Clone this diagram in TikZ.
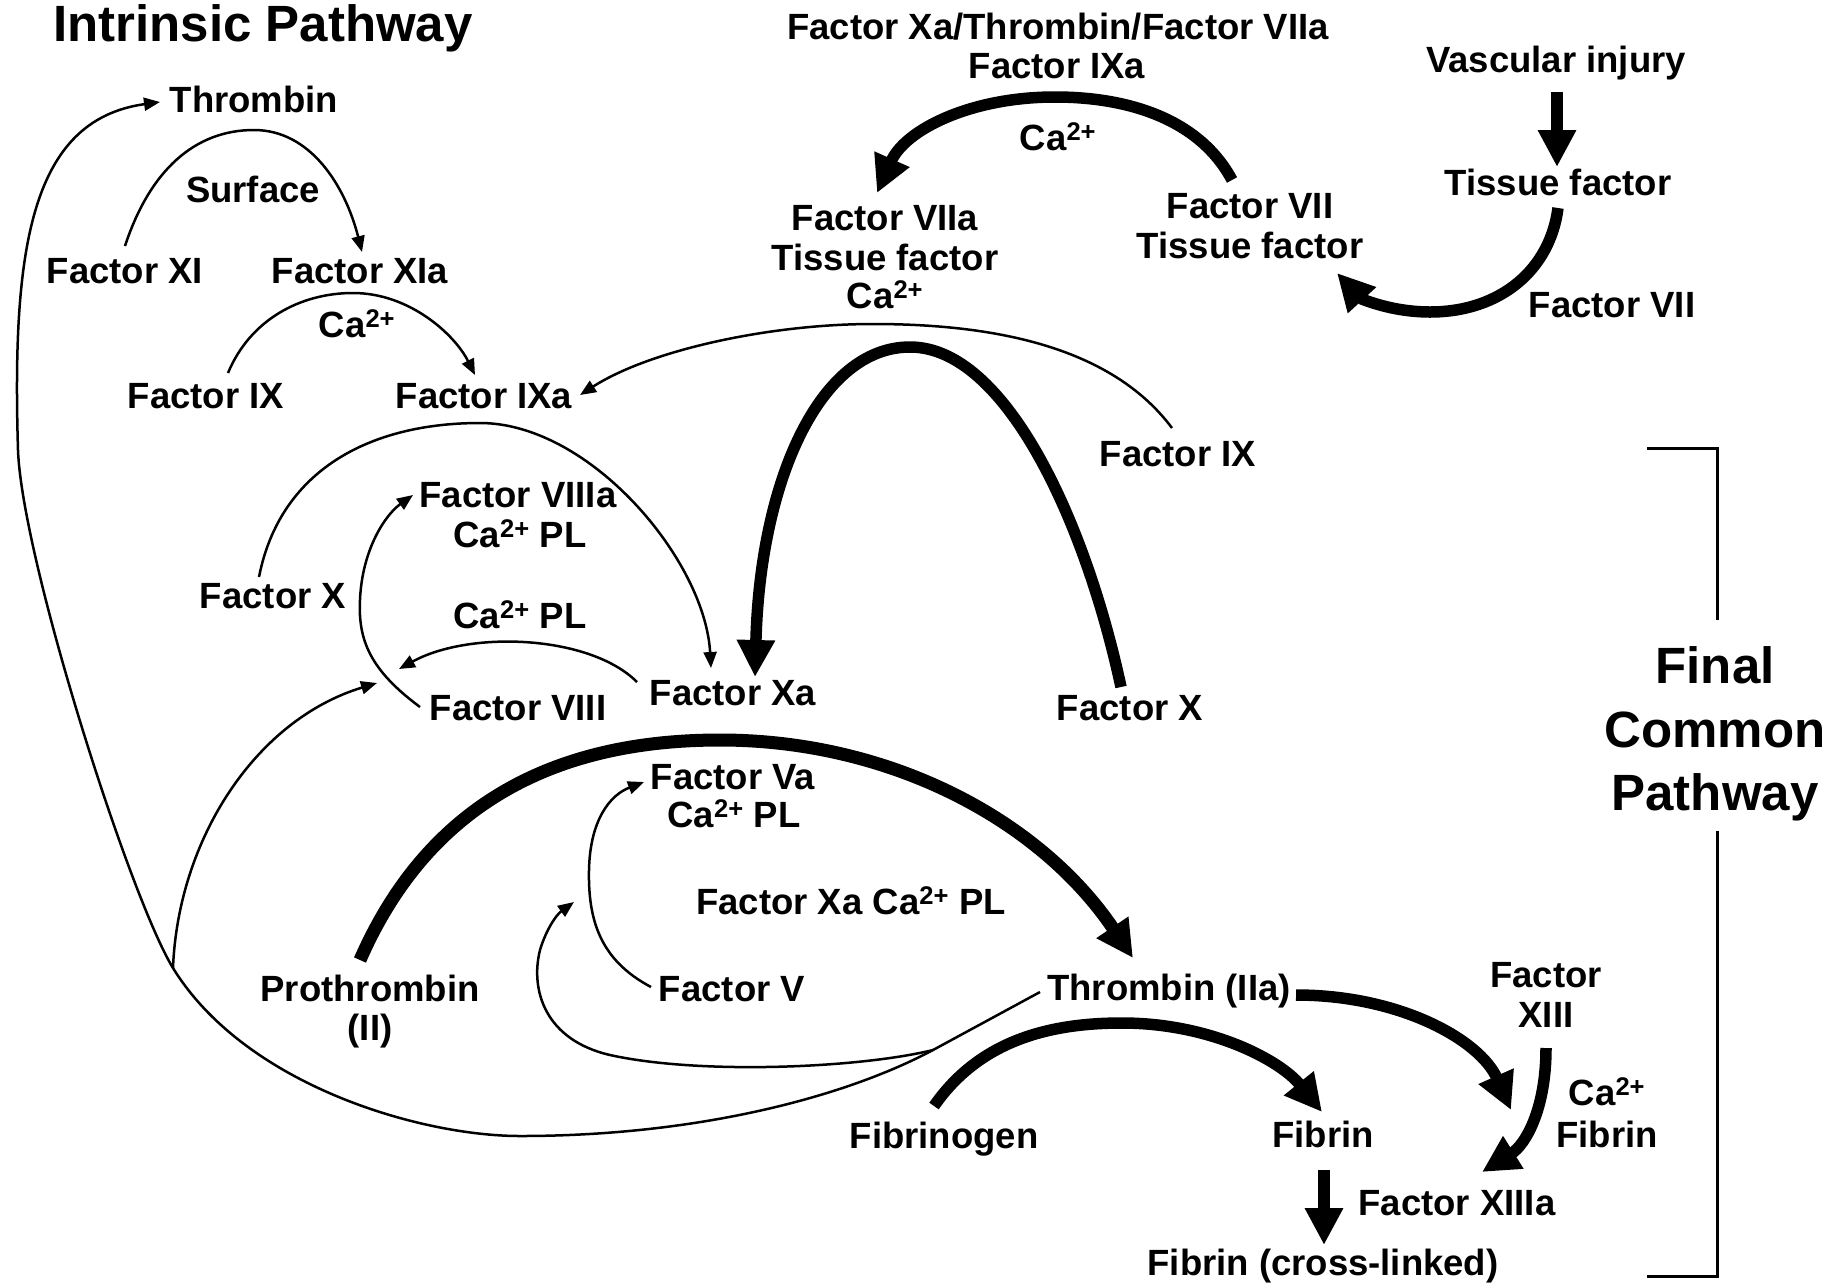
\documentclass[tikz,border=0pt]{standalone}
\usepackage{fontspec}
\setmainfont{Liberation Sans}
\usetikzlibrary{arrows.meta}
\begin{document}
\begin{tikzpicture}[x=1pt,y=-1pt,
  lbl/.style={anchor=base, inner sep=0pt, font=\bfseries\fontsize{36.5}{40}\selectfont},
  big/.style={anchor=base, inner sep=0pt, font=\bfseries\fontsize{51}{56}\selectfont},
  thinarr/.style={line width=2.5pt, -{Triangle[length=16pt,width=13pt]}},
  plainln/.style={line width=2.5pt},
  thickarr/.style={line width=11.5pt, -{Triangle[length=37pt,width=36pt]}},
  brk/.style={line width=3pt}]
\fill[white] (0,0) rectangle (1835,1286);
\useasboundingbox (0,0) rectangle (1835,1286);
% titles
\node[big, anchor=base west] (title) at (53,41) {Intrinsic Pathway};
\node[big] (fin1) at (1715,683) {Final};
\node[big] (fin2) at (1715,747) {Common};
\node[big] (fin3) at (1715,810) {Pathway};
% intrinsic
\node[lbl] (thr) at (254,112) {Thrombin};
\node[lbl] (surf) at (253,202) {Surface};
\node[lbl] (fxi) at (125,283) {Factor XI};
\node[lbl] (fxia) at (360,283) {Factor XIa};
\node[lbl] (ca1) at (357,337) {Ca\textsuperscript{2+}};
\node[lbl] (fix) at (206,408) {Factor IX};
\node[lbl] (fixa) at (484,408) {Factor IXa};
\node[lbl] (fxl) at (273,608) {Factor X};
\node[lbl] (fviiia) at (518,507) {Factor VIIIa};
\node[lbl] (capl1) at (520,547) {Ca\textsuperscript{2+} PL};
\node[lbl] (capl2) at (520,628) {Ca\textsuperscript{2+} PL};
\node[lbl] (fviii) at (518,720) {Factor VIII};
\node[lbl] (fxa) at (733,705) {Factor Xa};
\node[lbl] (fxr) at (1130,720) {Factor X};
\node[lbl] (fixr) at (1178,466) {Factor IX};
% extrinsic
\node[lbl] (cofac) at (1058,39) {Factor Xa/Thrombin/Factor VIIa};
\node[lbl] (fixat) at (1057,78) {Factor IXa};
\node[lbl] (ca2) at (1058,150) {Ca\textsuperscript{2+}};
\node[lbl] (fviia) at (885,230) {Factor VIIa};
\node[lbl] (tfl) at (885,270) {Tissue factor};
\node[lbl] (ca4) at (885,308) {Ca\textsuperscript{2+}};
\node[lbl] (fvii) at (1250,218) {Factor VII};
\node[lbl] (tfm) at (1250,258) {Tissue factor};
\node[lbl] (vinj) at (1556,72) {Vascular injury};
\node[lbl] (tfr) at (1558,195) {Tissue factor};
\node[lbl] (fviir) at (1612,317) {Factor VII};
% common
\node[lbl] (fva) at (733,789) {Factor Va};
\node[lbl] (capl3) at (734,827) {Ca\textsuperscript{2+} PL};
\node[lbl] (fxacapl) at (851,914) {Factor Xa Ca\textsuperscript{2+} PL};
\node[lbl] (pro) at (370,1001) {Prothrombin};
\node[lbl] (proii) at (370,1040) {(II)};
\node[lbl] (fv) at (732,1001) {Factor V};
\node[lbl] (thrIIa) at (1169,1000) {Thrombin (IIa)};
\node[lbl] (fxiii1) at (1546,987) {Factor};
\node[lbl] (fxiii2) at (1546,1027) {XIII};
\node[lbl] (ca3) at (1607,1105) {Ca\textsuperscript{2+}};
\node[lbl] (fib2) at (1607,1147) {Fibrin};
\node[lbl] (fbg) at (944,1148) {Fibrinogen};
\node[lbl] (fib) at (1323,1147) {Fibrin};
\node[lbl] (fxiiia) at (1457,1215) {Factor XIIIa};
\node[lbl] (fibx) at (1323,1275) {Fibrin (cross-linked)};
\coordinate (j2) at (933,1050);
\coordinate (j1) at (173,968);
% intrinsic connectors
\draw[thinarr] ([shift={(0,-37)}]fxi.base) .. controls (150,170) and (195,130) .. (254,130) .. controls (310,130) and (345,185) .. ([shift={(2,-31)}]fxia.base);
\draw[thinarr] ([shift={(22,-35)}]fix.base) .. controls (250,320) and (300,293) .. (353,293) .. controls (410,293) and (455,335) .. ([shift={(-9,-33)}]fixa.base);
\draw[thinarr] ([shift={(-6,-38)}]fixr.base) .. controls (1110,345) and (990,324) .. (873,324) .. controls (770,324) and (650,350) .. ([shift={(96,-13)}]fixa.base);
\draw[thickarr] ([shift={(-9,-33)}]fxr.base) .. controls (1085,520) and (1005,347) .. (910,347) .. controls (820,347) and (760,480) .. ([shift={(22,-28)}]fxa.base);
\draw[thinarr] ([shift={(-14,-31)}]fxl.base) .. controls (280,470) and (370,423) .. (480,423) .. controls (590,423) and (705,560) .. ([shift={(-22,-37)}]fxa.base);
\draw[thinarr] ([shift={(-98,-13)}]fviii.base) .. controls (370,670) and (358,640) .. (360,600) .. controls (362,550) and (385,515) .. ([shift={(-105,-12)}]fviiia.base);
\draw[thinarr] ([shift={(-96,-23)}]fxa.base) .. controls (590,635) and (470,630) .. ([shift={(-119,-51)}]fviii.base);
\draw[thinarr] (j1) .. controls (178,840) and (255,720) .. ([shift={(-141,-37)}]fviii.base);
% common connectors
\draw[thickarr, line width=13pt] ([shift={(-10,-41)}]pro.base) .. controls (430,800) and (560,740) .. (720,740) .. controls (890,740) and (1040,820) .. ([shift={(-36,-42)}]thrIIa.base);
\draw[thinarr] ([shift={(-81,-14)}]fv.base) .. controls (600,960) and (588,920) .. (589,870) .. controls (590,820) and (610,795) .. ([shift={(-89,-7)}]fva.base);
\draw[plainln] ([shift={(-129,-8)}]thrIIa.base) -- (j2);
\draw[thinarr] (j2) .. controls (847,1096) and (700,1136) .. (520,1136) .. controls (420,1136) and (245,1085) .. (j1) .. controls (130,898) and (22,560) .. (18,450) .. controls (12,250) and (30,120) .. ([shift={(-94,-10)}]thr.base);
\draw[thinarr] (j2) .. controls (860,1068) and (700,1075) .. (610,1055) .. controls (545,1040) and (530,990) .. (540,950) .. controls (546,930) and (556,915) .. ([shift={(-158,-99)}]fv.base);
\draw[thickarr] ([shift={(-10,-42)}]fbg.base) .. controls (980,1040) and (1050,1023) .. (1122,1023) .. controls (1210,1023) and (1280,1060) .. ([shift={(-1,-35)}]fib.base);
\draw[thickarr] ([shift={(127,-5)}]thrIIa.base) .. controls (1400,995) and (1480,1040) .. ([shift={(54,-105)}]fxiiia.base);
\draw[thickarr] ([shift={(0,21)}]fxiii2.base) .. controls (1546,1110) and (1525,1145) .. ([shift={(25,-43)}]fxiiia.base);
\draw[thickarr] ([shift={(1,23)}]fib.base) -- ([shift={(1,-30)}]fibx.base);
% extrinsic connectors
\draw[thickarr] ([shift={(1,20)}]vinj.base) -- ([shift={(-1,-28)}]tfr.base);
\draw[thickarr] ([shift={(0,13)}]tfr.base) .. controls (1550,270) and (1500,312) .. (1430,312) .. controls (1390,312) and (1360,298) .. ([shift={(87,15)}]tfm.base);
\draw[thickarr] ([shift={(-18,-38)}]fvii.base) .. controls (1200,120) and (1130,97) .. (1055,97) .. controls (970,97) and (905,130) .. ([shift={(-8,-37)}]fviia.base);
% bracket
\draw[brk] (1647,448) -| ([shift={(2,-26)}]fin1.north);
\draw[brk] ([shift={(2,10)}]fin3.south) |- (1647,1276);
\end{tikzpicture}
\end{document}
